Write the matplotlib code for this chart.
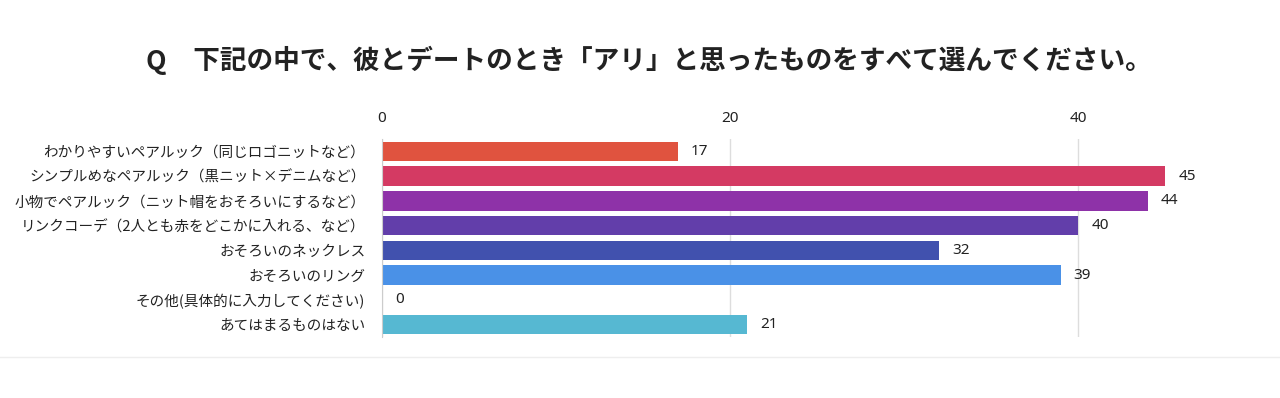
import matplotlib
matplotlib.use('Agg')
import matplotlib.pyplot as plt
from matplotlib.lines import Line2D

plt.rcParams['font.family'] = ['Noto Sans CJK JP', 'DejaVu Sans']

title = 'Q　下記の中で、彼とデートのとき「アリ」と思ったものをすべて選んでください。'
labels = ['わかりやすいペアルック（同じロゴニットなど）',
          'シンプルめなペアルック（黒ニット×デニムなど）',
          '小物でペアルック（ニット帽をおそろいにするなど）',
          'リンクコーデ（2人とも赤をどこかに入れる、など）',
          'おそろいのネックレス',
          'おそろいのリング',
          'その他(具体的に入力してください)',
          'あてはまるものはない']
values = [17, 45, 44, 40, 32, 39, 0, 21]
colors = ['#E0533F', '#D43A63', '#8E32A8', '#623EAA', '#4151AE', '#4A91E7', '#4A91E7', '#56B8D2']
ticks = [0, 20, 40]

num_font = ['Noto Sans', 'DejaVu Sans']

fig = plt.figure(figsize=(12.8, 3.98), dpi=100)
ax = fig.add_axes([382/1280, 1-337/398, 870/1280, 198/398])

ypos = list(range(len(values)))
ax.barh(ypos, values, height=0.78, color=colors, zorder=2)
for y, v in zip(ypos, values):
    ax.annotate(str(v), (v, y), xytext=(9.5, 0), textcoords='offset points',
                va='center', ha='left', fontsize=11, family=num_font, color='#222222')

ax.set_xlim(0, 50)
ax.set_ylim(len(values) - 0.5, -0.5)
ax.set_yticks(ypos)
ax.set_yticklabels(labels, fontsize=10.5, color='#222222')
ax.xaxis.tick_top()
ax.set_xticks(ticks)
ax.set_xticklabels([str(t) for t in ticks], fontsize=11, family=num_font, color='#222222')
ax.tick_params(axis='both', length=0)
ax.tick_params(axis='x', pad=9)
ax.tick_params(axis='y', pad=12)
ax.grid(axis='x', color='#dddddd', linewidth=1, zorder=0)
for s in ['top', 'right', 'bottom']:
    ax.spines[s].set_visible(False)
ax.spines['left'].set_color('#cccccc')
ax.spines['left'].set_zorder(3)

fig.text(0.507, 1-60/398, title, ha='center', va='center', fontsize=19.2,
         fontweight='bold', color='#222222')
fig.add_artist(Line2D([0, 1], [1-357/398, 1-357/398], color='#eeeeee', linewidth=1))

fig.savefig('out.png', dpi=100, facecolor='white')
